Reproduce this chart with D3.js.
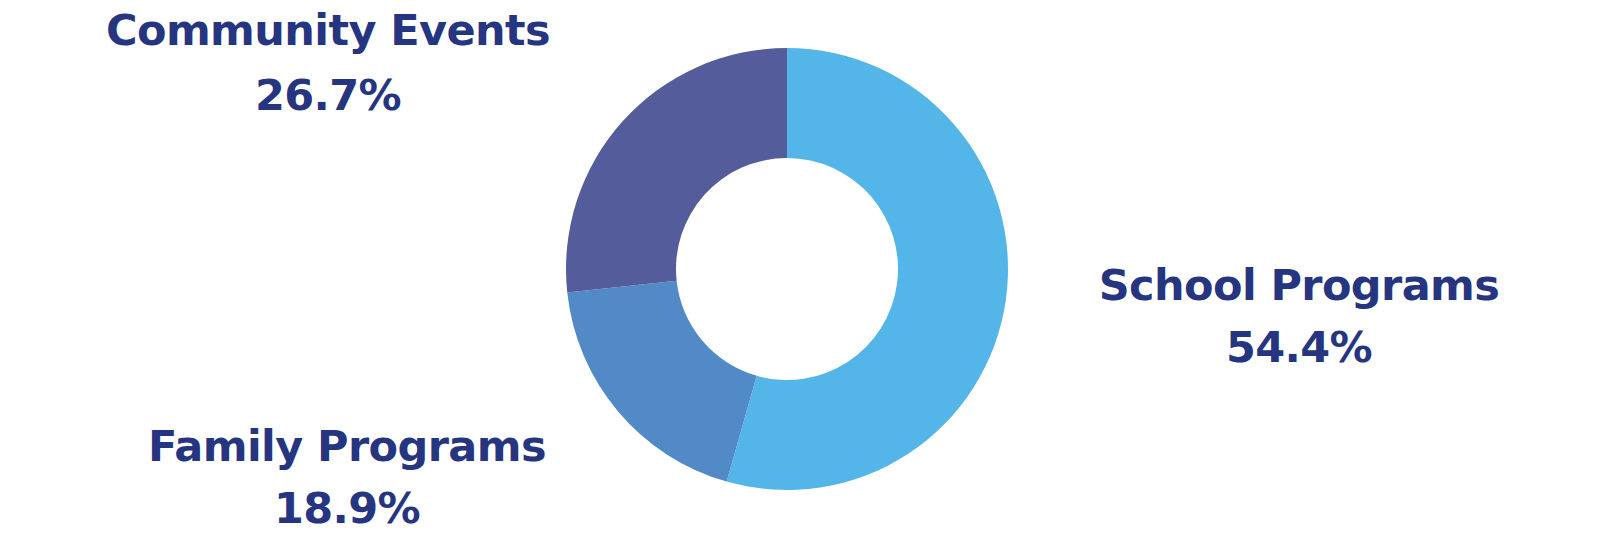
<!DOCTYPE html>
<html>
<head>
<meta charset="utf-8">
<script src="https://cdn.jsdelivr.net/npm/d3@7"></script>
<style>
  body { margin: 0; background: #ffffff; }
  .label { font-family: "DejaVu Sans", sans-serif; font-weight: bold; fill: #26357f; }
</style>
</head>
<body>
<div id="chart"></div>
<script>
// data
var categories = ["School Programs", "Family Programs", "Community Events"];
var shares = [54.4, 18.9, 26.7];
var sliceColors = ["#53b5e8", "#5289c7", "#545c9c"];

// set up our chart
var svgWidth = 1600;
var svgHeight = 533;

var center = { x: 787, y: 269 };
var outerRadius = 221;
var innerRadius = 111;

var svg = d3
    .select("#chart")
    .append("svg")
    .attr("width", svgWidth)
    .attr("height", svgHeight);

var chartGroup = svg.append("g")
    .attr("transform", `translate(${center.x}, ${center.y})`);

var pieData = categories.map(function(c, i) {
    return { name: c, value: shares[i], color: sliceColors[i] };
});

// pie layout, starting at 12 o'clock going clockwise, no sorting
var pie = d3.pie()
    .sort(null)
    .value(d => d.value);

var arc = d3.arc()
    .innerRadius(innerRadius)
    .outerRadius(outerRadius);

chartGroup.selectAll("path")
    .data(pie(pieData))
    .enter()
    .append("path")
    .attr("d", arc)
    .attr("fill", d => d.data.color);

// label placement (name baseline, percent baseline)
var labelPos = {
    "School Programs": { x: 1299, y1: 300, y2: 362 },
    "Family Programs": { x: 347, y1: 461, y2: 523 },
    "Community Events": { x: 328, y1: 45, y2: 110 }
};

var labelGroup = svg.append("g");

pieData.forEach(function(d) {
    var p = labelPos[d.name];
    var t = labelGroup.append("text")
        .attr("class", "label")
        .attr("text-anchor", "middle")
        .style("font-size", "43px")
        .style("letter-spacing", "-0.6px");
    t.append("tspan")
        .attr("x", p.x)
        .attr("y", p.y1)
        .text(d.name);
    t.append("tspan")
        .attr("x", p.x)
        .attr("y", p.y2)
        .text(d3.format(".1f")(d.value) + "%");
});
</script>
</body>
</html>
